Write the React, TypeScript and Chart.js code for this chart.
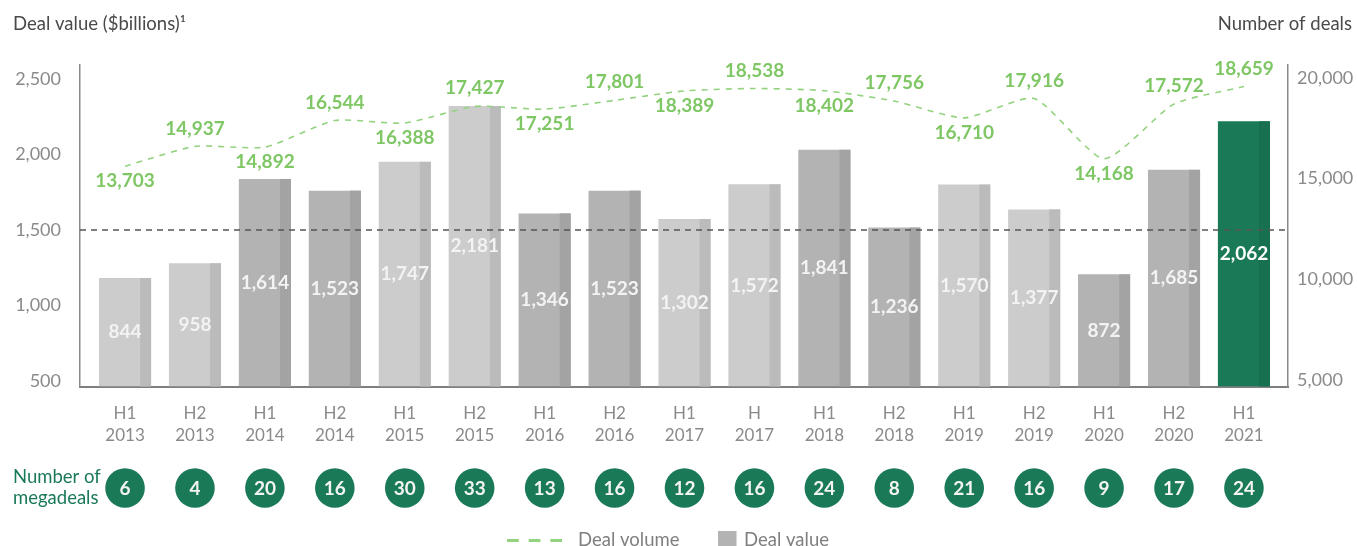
import React, { useEffect, useRef } from 'react';
import { Chart, registerables } from 'chart.js';

Chart.register(...registerables);

// ---------- data ----------
const categories: string[][] = [
  ['H1', '2013'], ['H2', '2013'], ['H1', '2014'], ['H2', '2014'], ['H1', '2015'], ['H2', '2015'],
  ['H1', '2016'], ['H2', '2016'], ['H1', '2017'], ['H', '2017'], ['H1', '2018'], ['H2', '2018'],
  ['H1', '2019'], ['H2', '2019'], ['H1', '2020'], ['H2', '2020'], ['H1', '2021'],
];
const dealValue = [844, 958, 1614, 1523, 1747, 2181, 1346, 1523, 1302, 1572, 1841, 1236, 1570, 1377, 872, 1685, 2062];
const dealVolume = [13703, 14937, 14892, 16544, 16388, 17427, 17251, 17801, 18389, 18538, 18402, 17756, 16710, 17916, 14168, 17572, 18659];
const megadeals = [6, 4, 20, 16, 30, 33, 13, 16, 12, 16, 24, 8, 21, 16, 9, 17, 24];
const volumeLabelPos = ['below', 'above', 'below', 'above', 'below', 'above', 'below', 'above', 'below', 'above', 'below', 'above', 'below', 'above', 'below', 'above', 'above'];
const leftTicks = [500, 1000, 1500, 2000, 2500];
const rightTicks = [5000, 10000, 15000, 20000];
const referenceLine = 1500;

// ---------- style ----------
const FONT = 'Lato, "Open Sans", "DejaVu Sans", sans-serif';
const GREEN_DARK = '#1a7a57';
const GREEN_LIGHT_TEXT = '#7fc765';
const GREEN_LINE = '#93d27e';
const AXIS_GRAY = '#8a8a8a';
const TONES: Record<string, { face: string; side: string }> = {
  light: { face: '#cccccc', side: '#bbbbbb' },
  dark: { face: '#b3b3b3', side: '#a3a3a3' },
  green: { face: '#1a7a57', side: '#177050' },
};
const barTone = (i: number) => {
  if (i === categories.length - 1) return 'green';
  return Number(categories[i][1]) % 2 === 1 ? 'light' : 'dark';
};
const X_PAD_START = 0.644;
const X_PAD_END = 0.63;

const fmt = (v: number) => Number(v).toLocaleString('en-US');

const decorPlugin = {
  id: 'decor',
  afterDatasetDraw(chart: any, args: any) {
    if (args.index !== 0) return;
    const ctx = chart.ctx;
    const meta = chart.getDatasetMeta(0);
    const yBar = chart.scales.yBar;
    const yL = chart.scales.yL;
    const area = chart.chartArea;
    ctx.save();
    // darker right side of each bar
    meta.data.forEach((el: any, i: number) => {
      const { x, y, base, width } = el.getProps(['x', 'y', 'base', 'width'], true);
      const sw = width * 0.21;
      ctx.fillStyle = TONES[barTone(i)].side;
      ctx.fillRect(x + width / 2 - sw, y, sw, base - y);
    });
    // dashed reference line
    const ry = yL.getPixelForValue(referenceLine);
    ctx.strokeStyle = '#555555';
    ctx.lineWidth = 1.3;
    ctx.setLineDash([6, 5]);
    ctx.beginPath();
    ctx.moveTo(area.left, ry);
    ctx.lineTo(area.right, ry);
    ctx.stroke();
    ctx.setLineDash([]);
    // bar value labels
    ctx.font = `bold 19px ${FONT}`;
    ctx.textAlign = 'center';
    ctx.textBaseline = 'middle';
    meta.data.forEach((el: any, i: number) => {
      const { x } = el.getProps(['x'], true);
      const y = yBar.getPixelForValue(dealValue[i] / 2);
      ctx.fillStyle = barTone(i) === 'green' ? '#ffffff' : '#f3f3f3';
      ctx.fillText(fmt(dealValue[i]), x, y);
    });
    ctx.restore();
  },
  afterDraw(chart: any) {
    const ctx = chart.ctx;
    const xs = chart.scales.x;
    ctx.save();
    // deal volume labels
    const lineMeta = chart.getDatasetMeta(1);
    ctx.font = `bold 19px ${FONT}`;
    ctx.textAlign = 'center';
    ctx.textBaseline = 'middle';
    ctx.fillStyle = GREEN_LIGHT_TEXT;
    lineMeta.data.forEach((pt: any, i: number) => {
      const x = xs.getPixelForValue(i);
      const y = pt.y + (volumeLabelPos[i] === 'above' ? -18 : 15);
      ctx.fillText(fmt(dealVolume[i]), x, y);
    });
    // axis titles
    ctx.font = `18.5px ${FONT}`;
    ctx.fillStyle = '#4a4a4a';
    ctx.textBaseline = 'alphabetic';
    ctx.textAlign = 'left';
    ctx.fillText('Deal value ($billions)\u00b9', 13, 30);
    ctx.textAlign = 'right';
    ctx.fillText('Number of deals', 1352, 30);
    // megadeals row
    ctx.textAlign = 'left';
    ctx.fillStyle = GREEN_DARK;
    ctx.font = `18.5px ${FONT}`;
    ctx.textBaseline = 'middle';
    ctx.fillText('Number of', 13, 477);
    ctx.fillText('megadeals', 13, 498);
    megadeals.forEach((n, i) => {
      const cx = xs.getPixelForValue(i);
      ctx.beginPath();
      ctx.arc(cx, 488, 19.8, 0, Math.PI * 2);
      ctx.fillStyle = GREEN_DARK;
      ctx.fill();
      ctx.fillStyle = '#f4f4f4';
      ctx.font = `bold 19px ${FONT}`;
      ctx.textAlign = 'center';
      ctx.fillText(String(n), cx, 489);
    });
    // legend
    ctx.strokeStyle = GREEN_LINE;
    ctx.lineWidth = 3;
    ctx.setLineDash([11.7, 10]);
    ctx.beginPath();
    ctx.moveTo(507, 540.5);
    ctx.lineTo(562, 540.5);
    ctx.stroke();
    ctx.setLineDash([]);
    ctx.font = `18.5px ${FONT}`;
    ctx.fillStyle = '#7f7f7f';
    ctx.textAlign = 'left';
    ctx.textBaseline = 'alphabetic';
    ctx.fillText('Deal volume', 578, 545.5);
    ctx.fillStyle = '#b3b3b3';
    ctx.fillRect(718, 531, 18.5, 18.5);
    ctx.fillStyle = '#7f7f7f';
    ctx.fillText('Deal value', 744, 545.5);
    ctx.restore();
  },
};

export default function App() {
  const ref = useRef<HTMLCanvasElement>(null);
  useEffect(() => {
    const chart = new Chart(ref.current as HTMLCanvasElement, {
      type: 'bar',
      data: {
        labels: categories as any,
        datasets: [
          {
            type: 'bar',
            label: 'Deal value',
            data: dealValue,
            yAxisID: 'yBar',
            xAxisID: 'x',
            backgroundColor: categories.map((_, i) => TONES[barTone(i)].face),
            borderWidth: 0,
            categoryPercentage: 1,
            barPercentage: 0.745,
            order: 1,
          } as any,
          {
            type: 'line',
            label: 'Deal volume',
            data: dealVolume,
            yAxisID: 'yLine',
            xAxisID: 'x',
            borderColor: GREEN_LINE,
            borderWidth: 1.6,
            borderDash: [6, 6],
            pointRadius: 0,
            tension: 0.2,
            fill: false,
            order: 0,
          } as any,
        ],
      },
      options: {
        responsive: false,
        animation: false,
        layout: { padding: { top: 65, left: 0, right: 0, bottom: 0 } },
        plugins: { legend: { display: false }, tooltip: { enabled: false } },
        scales: {
          x: {
            type: 'category',
            position: 'bottom',
            grid: { display: false, drawTicks: false },
            border: { display: true, color: '#7f7f7f', width: 2 },
            ticks: {
              color: AXIS_GRAY,
              font: { family: FONT, size: 17, lineHeight: 1.3 },
              padding: 15.5,
              maxRotation: 0,
              autoSkip: false,
            },
            afterBuildTicks: (s: any) => {
              s._startValue = -X_PAD_START;
              s._valueRange = categories.length - 1 + X_PAD_START + X_PAD_END;
            },
            afterFit: (s: any) => {
              s.height = 159.5;
            },
          },
          yL: {
            type: 'linear',
            position: 'left',
            min: 463.6,
            max: 2593,
            grid: { display: false, drawTicks: false },
            border: { display: true, color: AXIS_GRAY, width: 1.5 },
            ticks: {
              color: AXIS_GRAY,
              font: { family: FONT, size: 18 },
              padding: 19,
              callback: (v: any) => fmt(v),
            },
            afterBuildTicks: (s: any) => {
              s.ticks = leftTicks.map((v) => ({ value: v }));
            },
            afterFit: (s: any) => {
              s.width = 80;
            },
          },
          yR: {
            type: 'linear',
            position: 'right',
            min: 4677,
            max: 20646,
            grid: { display: false, drawTicks: false },
            border: { display: true, color: AXIS_GRAY, width: 1.5 },
            ticks: {
              color: AXIS_GRAY,
              font: { family: FONT, size: 18 },
              padding: 9,
              callback: (v: any) => fmt(v),
            },
            afterBuildTicks: (s: any) => {
              s.ticks = rightTicks.map((v) => ({ value: v }));
            },
            afterFit: (s: any) => {
              s.width = 69;
            },
          },
          yBar: { type: 'linear', display: false, min: 0, max: 2500 },
          yLine: { type: 'linear', display: false, min: 0, max: 20000 },
        },
      } as any,
      plugins: [decorPlugin],
    });
    return () => chart.destroy();
  }, []);
  return (
    <div style={{ position: 'absolute', left: 0, top: 0, width: 1357, height: 546, background: '#ffffff', overflow: 'hidden' }}>
      <canvas ref={ref} width={1357} height={546} style={{ display: 'block', width: 1357, height: 546 }} />
    </div>
  );
}
